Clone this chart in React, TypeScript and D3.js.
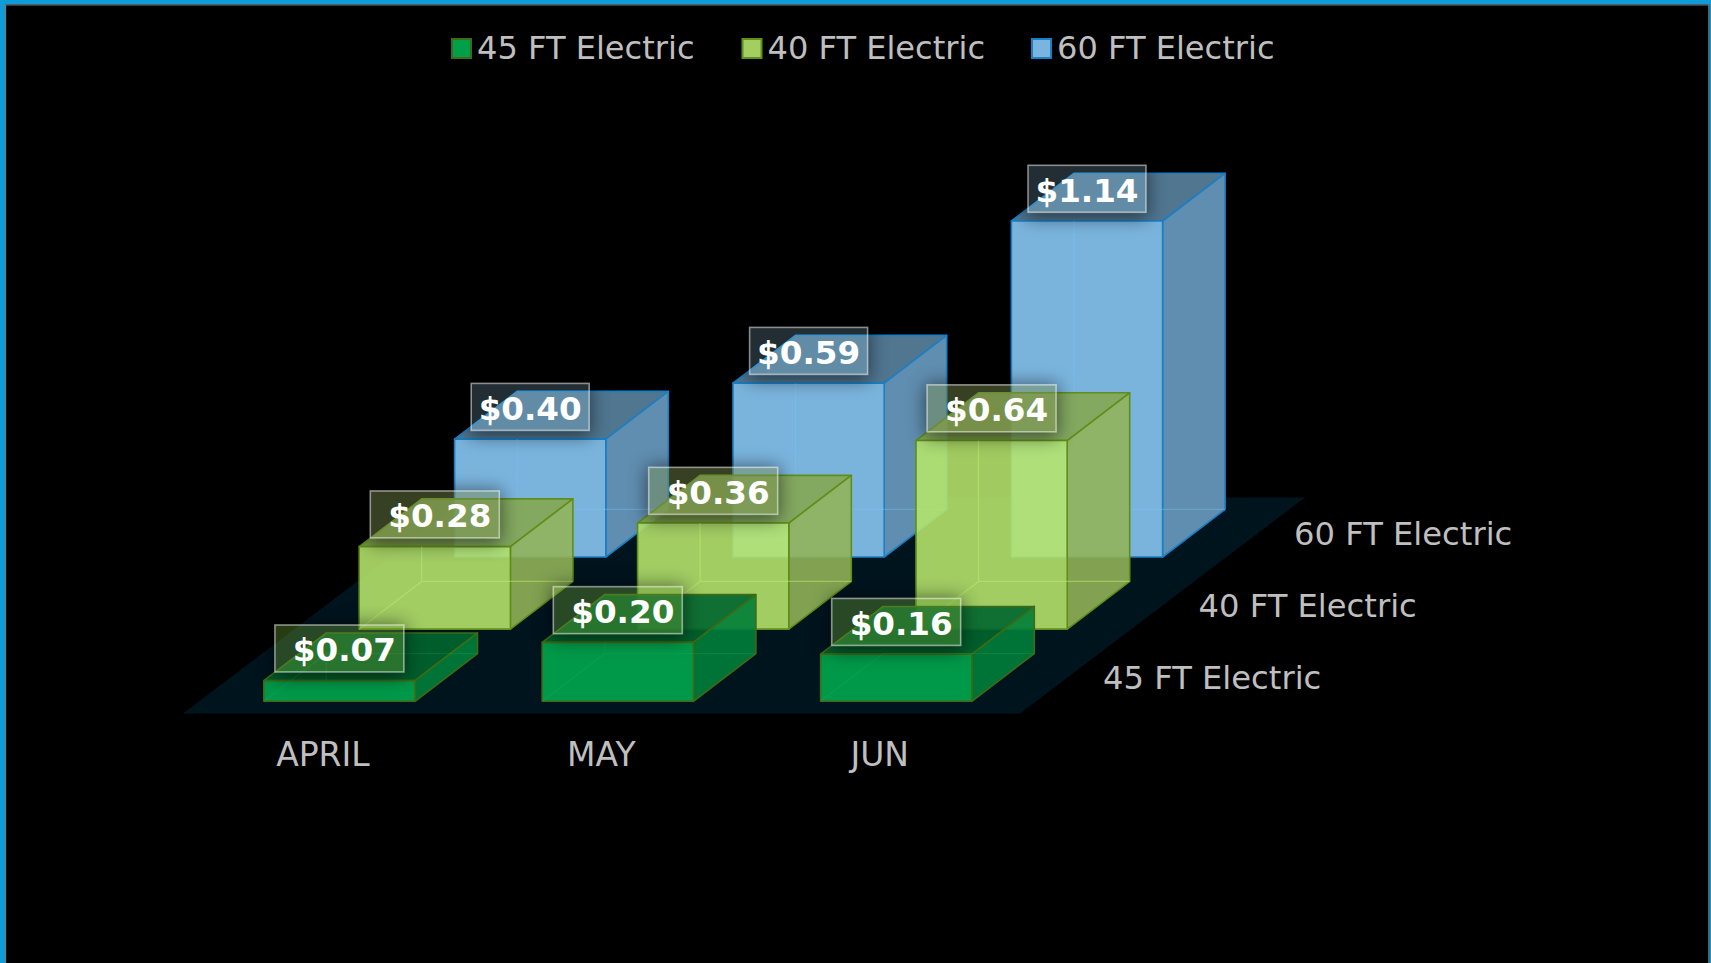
import React from "react";
import * as d3 from "d3";

const months = ["APRIL", "MAY", "JUN"];
const seriesNames = ["45 FT Electric", "40 FT Electric", "60 FT Electric"];
const values45 = [0.07, 0.2, 0.16];
const values40 = [0.28, 0.36, 0.64];
const values60 = [0.4, 0.59, 1.14];
const seriesValues = [values45, values40, values60];

const W = 1711, H = 963;
const BAR_W = 151.2, DEPTH_X = 62.5, DEPTH_Y = -47.7;

const styles = [
  { front: "rgba(0,158,74,0.97)", side: "rgba(0,126,57,0.9)", top: "rgba(0,102,45,0.9)", edge: "#3f6b14", inner: "rgba(40,190,100,0.18)", swatch: "#00a04b", swEdge: "#3f6b14", boxFill: "rgba(100,150,50,0.4)", boxW: 129, textDx: 5 },
  { front: "rgba(181,228,108,0.89)", side: "rgba(146,180,88,0.89)", top: "rgba(132,166,80,0.89)", edge: "#5f8f1a", inner: "rgba(190,240,110,0.5)", swatch: "#a3cf62", swEdge: "#5f8f1a", boxFill: "rgba(120,139,76,0.46)", boxW: 129, textDx: 5 },
  { front: "rgba(122,180,221,1)", side: "rgba(96,142,176,1)", top: "rgba(80,118,144,1)", edge: "#1a7fc4", inner: "rgba(120,195,250,0.4)", swatch: "#7ab5df", swEdge: "#1a7fc4", boxFill: "rgba(170,230,255,0.2)", boxW: 118, textDx: 0 },
];

const xScale = d3.scalePoint<string>().domain(months).range([263.8, 820.6]);
const rowX = d3.scalePoint<string>().domain(seriesNames).range([0, 190.8]);
const rowY = d3.scalePoint<string>().domain(seriesNames).range([701.3, 557]);
const hScale = d3.scaleLinear().domain([0, 1.14]).range([0, 336]);

const lineGen = d3.line();
const open = (pts: [number, number][]) => lineGen(pts)!;
const poly = (pts: [number, number][]) => lineGen(pts) + "Z";

const FONT = "'DejaVu Sans', Verdana, sans-serif";

function Bar({ month, series, value, si }: { month: string; series: string; value: number; si: number }) {
  const s = styles[si];
  const x0 = xScale(month)! + rowX(series)!;
  const x1 = x0 + BAR_W;
  const yb = rowY(series)!;
  const yt = yb - hScale(value);
  const bx0 = x0 + DEPTH_X, bx1 = x1 + DEPTH_X;
  const ybb = yb + DEPTH_Y, ytb = yt + DEPTH_Y;
  return (
    <g>
      <path d={poly([[x0, yt], [x1, yt], [bx1, ytb], [bx0, ytb]])} fill={s.top} stroke={s.edge} strokeWidth={1.6} strokeLinejoin="round" />
      <path d={poly([[x1, yt], [bx1, ytb], [bx1, ybb], [x1, yb]])} fill={s.side} stroke={s.edge} strokeWidth={1.6} strokeLinejoin="round" />
      <path d={poly([[x0, yt], [x1, yt], [x1, yb], [x0, yb]])} fill={s.front} stroke={s.edge} strokeWidth={1.6} strokeLinejoin="round" />
      <g fill="none" stroke={s.inner} strokeWidth={1.3}>
        <path d={open([[bx0, yt], [bx0, ybb]])} />
        <path d={open([[x0, yb], [bx0, ybb]])} />
        <path d={open([[bx0, ybb], [bx1, ybb]])} />
      </g>
    </g>
  );
}

function Label({ month, series, value, si }: { month: string; series: string; value: number; si: number }) {
  const s = styles[si];
  const id = React.useId().replace(/[^a-zA-Z0-9]/g, "");
  const cx = xScale(month)! + rowX(series)! + BAR_W / 2;
  const yt = rowY(series)! - hScale(value);
  const top = yt - 55.7;
  const bl = cx - s.boxW / 2;
  const outer = poly([[bl - 40, top - 40], [bl + s.boxW + 40, top - 40], [bl + s.boxW + 40, top + 90], [bl - 40, top + 90]]);
  const inner = poly([[bl, top], [bl + s.boxW, top], [bl + s.boxW, top + 47], [bl, top + 47]]);
  return (
    <g>
      <clipPath id={"c" + id}>
        <path d={outer + inner} clipRule="evenodd" />
      </clipPath>
      <g clipPath={`url(#c${id})`}>
        <rect x={bl - 2} y={top - 1} width={s.boxW + 4} height={54} fill="#000" opacity={0.5} filter="url(#labelShadow)" />
      </g>
      <rect x={bl} y={top} width={s.boxW} height={47} fill={s.boxFill} stroke="rgba(255,255,255,0.5)" strokeWidth={1.6} />
      <text x={cx + s.textDx} y={top + 36.2} textAnchor="middle" fontFamily={FONT} fontWeight="bold" fontSize={32.6} fill="#fff">
        {"$" + value.toFixed(2)}
      </text>
    </g>
  );
}

const legendX = [451, 741.5, 1031];
const depthLabelX = d3.scalePoint<string>().domain(seriesNames).range([1103, 1294]);
const depthLabelY = d3.scalePoint<string>().domain(seriesNames).range([689, 545]);

export default function App() {
  const fx0 = 183, fx1 = 1020, fyb = 713.5, fdx = 285, fdy = -216;
  const order = [2, 1, 0];
  return (
    <svg width={W} height={H} viewBox={`0 0 ${W} ${H}`} style={{ position: "fixed", left: 0, top: 0, background: "#000", display: "block" }}>
      <defs>
        <filter id="labelShadow" x="-30%" y="-60%" width="160%" height="220%">
          <feGaussianBlur stdDeviation="9" />
        </filter>
      </defs>
      <rect x={0} y={0} width={W} height={H} fill="#000" />
      {/* window frame */}
      <rect x={0} y={0} width={W} height={4.5} fill="#0f9bd7" />
      <rect x={0} y={0} width={5} height={H} fill="#0f9bd7" />
      <rect x={1709.3} y={0} width={1.7} height={H} fill="#0f9bd7" />
      <rect x={5} y={4.5} width={1.2} height={H} fill="#777" />
      <rect x={5} y={4.5} width={1704.3} height={1} fill="#777" />
      <rect x={1708.2} y={4.5} width={1.1} height={H} fill="#777" />

      {/* legend */}
      {seriesNames.map((n, i) => (
        <g key={n}>
          <rect x={legendX[i] + 1} y={39} width={19} height={19} fill={styles[i].swatch} stroke={styles[i].swEdge} strokeWidth={2} />
          <text x={legendX[i] + 26} y={59} fontFamily={FONT} fontSize={32.1} fill="#bfbfbf">{n}</text>
        </g>
      ))}

      {/* floor */}
      <path d={poly([[fx0, fyb], [fx1, fyb], [fx1 + fdx, fyb + fdy], [fx0 + fdx, fyb + fdy]])} fill="#00141e" />

      {/* bars, back row first */}
      {order.map((si) => (
        <g key={si}>
          {months.map((m, mi) => (
            <Bar key={m} month={m} series={seriesNames[si]} value={seriesValues[si][mi]} si={si} />
          ))}
        </g>
      ))}

      {/* axis labels */}
      {months.map((m) => (
        <text key={m} x={xScale(m)! + BAR_W / 2 - 16.5} y={766} textAnchor="middle" fontFamily={FONT} fontSize={33} fill="#bfbfbf">{m}</text>
      ))}
      {seriesNames.map((n) => (
        <text key={n} x={depthLabelX(n)!} y={depthLabelY(n)!} fontFamily={FONT} fontSize={32.2} fill="#bfbfbf">{n}</text>
      ))}

      {/* data labels */}
      {order.map((si) => (
        <g key={si}>
          {months.map((m, mi) => (
            <Label key={m} month={m} series={seriesNames[si]} value={seriesValues[si][mi]} si={si} />
          ))}
        </g>
      ))}
    </svg>
  );
}
